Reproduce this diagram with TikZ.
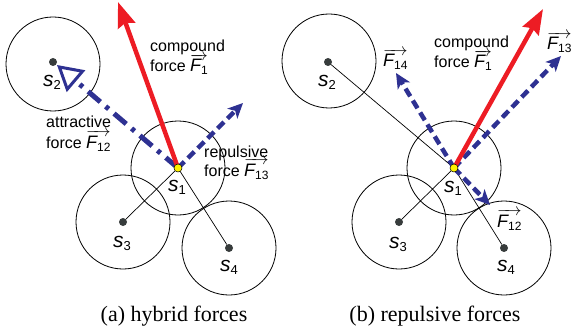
\documentclass[tikz,border=0pt]{standalone}
\usepackage{fontspec}
\setmainfont{Liberation Serif}
\setsansfont{Liberation Sans}
\usetikzlibrary{arrows.meta}
\definecolor{fred}{RGB}{237,28,36}
\definecolor{fblue}{RGB}{46,49,146}
\definecolor{dotg}{RGB}{55,60,60}
\definecolor{fyel}{RGB}{255,242,0}
\newcommand{\sname}[1]{{\fontsize{21}{21}\selectfont\itshape s}\raisebox{-3pt}{\fontsize{13}{13}\selectfont #1}}
\newcommand{\vF}[1]{$\overrightarrow{\hbox{\fontsize{18}{18}\selectfont\itshape F\upshape\raisebox{-3pt}{\fontsize{12}{12}\selectfont #1}}}$}
\tikzset{
  rangecircle/.style={draw=black, line width=0.8pt, circle, minimum size=94pt, inner sep=0pt},
  sdot/.style={circle, fill=dotg, minimum size=8pt, inner sep=0pt},
  ydot/.style={circle, fill=fyel, draw=black, line width=0.5pt, minimum size=8pt, inner sep=0pt},
  thinlink/.style={black, line width=0.7pt},
  lbl/.style={font=\sffamily\fontsize{16}{20}\selectfont, anchor=base west, inner sep=0pt},
  slbl/.style={font=\sffamily, anchor=base west, inner sep=0pt},
  captext/.style={font=\fontsize{22}{24}\selectfont, anchor=base, inner sep=0pt},
  forcered/.style={fred, line width=4.5pt, -{Stealth[length=25pt, width=18pt, inset=3pt]}},
  forcerep/.style={fblue, line width=4.5pt, dash pattern=on 9pt off 5pt, -{Stealth[length=15pt, width=14pt, inset=4pt]}},
  forceatt/.style={fblue, line width=5pt, dash pattern=on 16pt off 7pt on 4pt off 7pt, -{Triangle[length=25pt, width=28pt, line width=3pt, fill=white]}}
}
\begin{document}
\begin{tikzpicture}[x=1pt, y=-1pt]
\useasboundingbox (0,0) rectangle (572,334);
% ---------- panel (a) ----------
\node[rangecircle] (ra1) at (178,168) {};
\node[rangecircle] (ra2) at (53,64) {};
\node[rangecircle] (ra3) at (123,222) {};
\node[rangecircle] (ra4) at (229,248) {};
\coordinate (a1) at (178,168);
\node[sdot] (a2) at (53,62) {};
\node[sdot] (a3) at (123,222) {};
\node[sdot] (a4) at (229,248) {};
\coordinate (atip) at (118,2);
\coordinate (a13) at (243,103);
\coordinate (a12) at (57,65);
\draw[thinlink] (a1) -- (a3);
\draw[thinlink] (a1) -- (a4);
\draw[forceatt] (a1) -- (a12);
\draw[forcerep] (a1) -- (a13);
\draw[forcered] (a1) -- (atip);
\node[ydot] (ya1) at (a1) {};
\node[slbl] (la1) at (168,191) {\sname{1}};
\node[slbl] (la2) at (43,87) {\sname{2}};
\node[slbl] (la3) at (113,247) {\sname{3}};
\node[slbl] (la4) at (220,271) {\sname{4}};
\node[lbl] (ca1) at (150,52) {compound};
\node[lbl] (ca2) at (150,72) {force \vF{1}};
\node[lbl] (ta1) at (46,128) {attractive};
\node[lbl] (ta2) at (46,148) {force \vF{12}};
\node[lbl] (pa1) at (204,157) {repulsive};
\node[lbl] (pa2) at (204,176) {force \vF{13}};
\node[captext] (capa) at (174,321) {(a) hybrid forces};
% ---------- panel (b) ----------
\node[rangecircle] (rb1) at (454,168) {};
\node[rangecircle] (rb2) at (329,61) {};
\node[rangecircle] (rb3) at (399,222) {};
\node[rangecircle] (rb4) at (504,248) {};
\coordinate (b1) at (454,168);
\node[sdot] (b2) at (328,62) {};
\node[sdot] (b3) at (399,222) {};
\node[sdot] (b4) at (504,248) {};
\coordinate (btip) at (543,9);
\coordinate (b14) at (396,73);
\coordinate (b13) at (561,56);
\coordinate (b12) at (490,205);
\draw[thinlink] (b1) -- (b2);
\draw[thinlink] (b1) -- (b3);
\draw[thinlink] (b1) -- (b4);
\draw[forcerep] (b1) -- (b14);
\draw[forcerep] (b1) -- (b13);
\draw[forcerep] (b1) -- (b12);
\draw[forcered] (b1) -- (btip);
\node[ydot] (yb1) at (b1) {};
\node[slbl] (lb1) at (444,192) {\sname{1}};
\node[slbl] (lb2) at (318,87) {\sname{2}};
\node[slbl] (lb3) at (389,248) {\sname{3}};
\node[slbl] (lb4) at (497,271) {\sname{4}};
\node[lbl] (cb1) at (434,48) {compound};
\node[lbl] (cb2) at (434,68) {force \vF{1}};
\node[lbl] (fb14) at (383,67) {\vF{14}};
\node[lbl] (fb13) at (547,50) {\vF{13}};
\node[lbl] (fb12) at (497,227) {\vF{12}};
\node[captext] (capb) at (435,321) {(b) repulsive forces};
\end{tikzpicture}
\end{document}
